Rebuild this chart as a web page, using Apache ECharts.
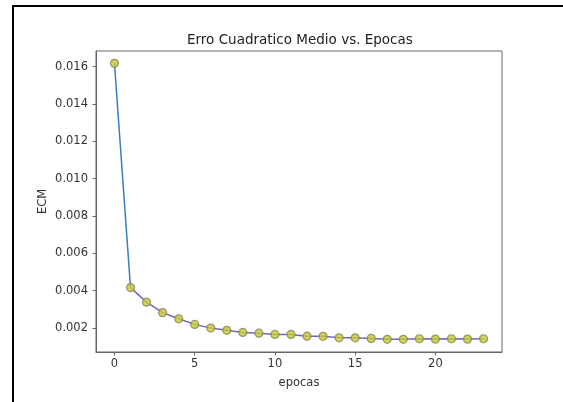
<!DOCTYPE html>
<html>
<head>
<meta charset="utf-8">
<script src="https://cdn.jsdelivr.net/npm/echarts@6/dist/echarts.min.js"></script>
<style>
  html, body { margin: 0; padding: 0; background: #fff; }
  #chart { position: absolute; left: 0; top: 0; width: 563px; height: 402px; }
  #frame { position: absolute; left: 12px; top: 5px; width: 551px; height: 397px;
           border-left: 2px solid #000; border-top: 2px solid #000; pointer-events: none; }
</style>
</head>
<body>
<div id="chart"></div>
<div id="frame"></div>
<script>
const epocas = [0, 1, 2, 3, 4, 5, 6, 7, 8, 9, 10, 11, 12, 13, 14, 15, 16, 17, 18, 19, 20, 21, 22, 23]
const ecm = [
  0.01618, 0.00416, 0.00338, 0.00282, 0.00249, 0.00219, 0.00199, 0.00187,
  0.00176, 0.00172, 0.00165, 0.00165, 0.00156, 0.00155, 0.00147, 0.00147,
  0.00144, 0.00139, 0.00139, 0.00142, 0.0014, 0.00142, 0.0014, 0.00142
]
const xTicks = [0, 5, 10, 15, 20]
const yTicks = [0.002, 0.004, 0.006, 0.008, 0.010, 0.012, 0.014, 0.016]

const points = epocas.map((e, i) => [e, ecm[i]])
const font = 'DejaVu Sans'

const chart = echarts.init(document.getElementById('chart'), null, { renderer: 'canvas' })
chart.setOption({
  animation: false,
  title: {
    text: 'Erro Cuadratico Medio vs. Epocas',
    left: 182,
    top: 28,
    textStyle: { fontFamily: font, fontSize: 13.5, fontWeight: 'normal', color: '#222' }
  },
  grid: {
    left: 96, top: 51, right: 61, bottom: 50,
    show: true, borderColor: '#666', borderWidth: 1, backgroundColor: '#fff'
  },
  xAxis: {
    type: 'value',
    min: -1.15,
    max: 24.15,
    name: 'epocas',
    nameLocation: 'middle',
    nameGap: 25,
    nameMoveOverlap: false,
    nameTextStyle: { fontFamily: font, fontSize: 11.5, color: '#333' },
    axisLine: { show: true, onZero: false, lineStyle: { color: '#666', width: 1 } },
    axisTick: { show: true, length: 3.5, customValues: xTicks, lineStyle: { color: '#666' } },
    axisLabel: { customValues: xTicks, margin: 6, fontFamily: font, fontSize: 11.5, color: '#333' },
    splitLine: { show: false }
  },
  yAxis: {
    type: 'value',
    min: 0.00071,
    max: 0.01684,
    name: 'ECM',
    nameLocation: 'middle',
    nameGap: 47,
    nameMoveOverlap: false,
    nameRotate: 90,
    nameTextStyle: { fontFamily: font, fontSize: 11.5, color: '#333' },
    axisLine: { show: true, onZero: false, lineStyle: { color: '#666', width: 1 } },
    axisTick: { show: true, length: 3.5, customValues: yTicks, lineStyle: { color: '#666' } },
    axisLabel: {
      customValues: yTicks, margin: 8, fontFamily: font, fontSize: 11.5, color: '#333',
      formatter: v => v.toFixed(3)
    },
    splitLine: { show: false }
  },
  series: [
    {
      // first, steep step of the curve
      type: 'line',
      data: points.slice(0, 2),
      showSymbol: false,
      lineStyle: { width: 1.5, color: '#3b7fbf' },
      z: 2
    },
    {
      type: 'line',
      data: points.slice(1),
      showSymbol: false,
      lineStyle: { width: 1.5, color: '#7268b8' },
      z: 2
    },
    {
      type: 'scatter',
      data: points,
      symbol: 'circle',
      symbolSize: 8,
      itemStyle: { color: '#c8c830', borderColor: '#85855a', borderWidth: 1.2 },
      z: 3
    }
  ]
})
</script>
</body>
</html>
